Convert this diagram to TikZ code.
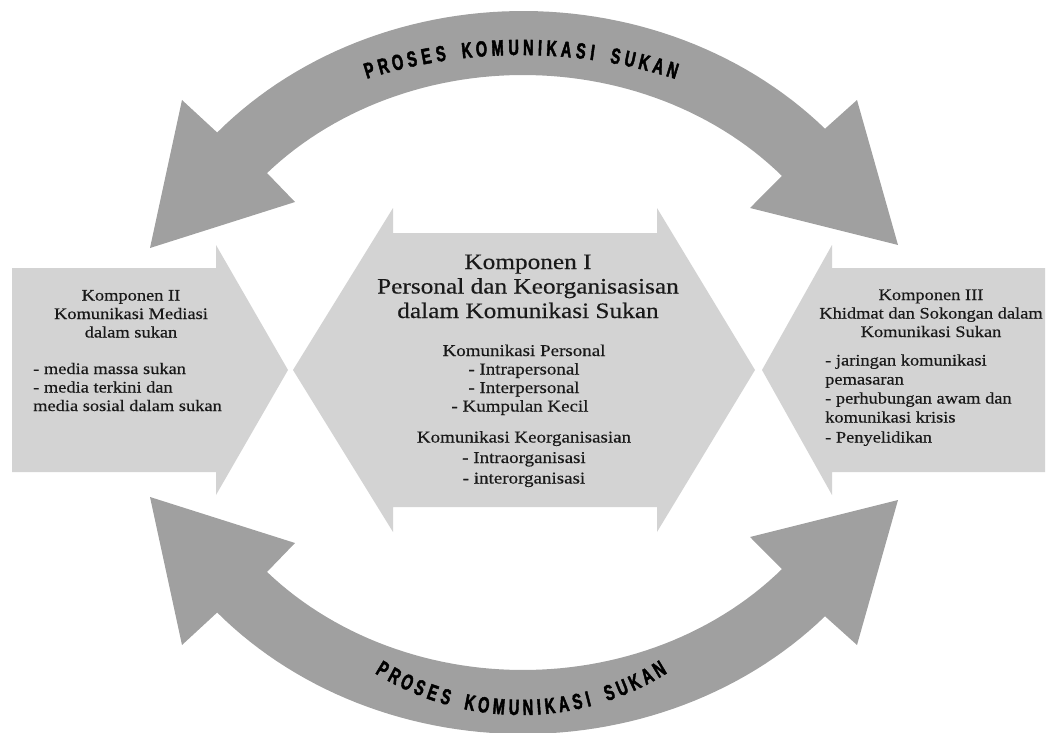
\documentclass[tikz,border=0pt]{standalone}
\usepackage{fontspec}
\setmainfont{Liberation Serif}[FakeStretch=1.15, FakeBold=0.35]
\newfontfamily\arcfont{Liberation Sans}[FakeStretch=0.66, BoldFeatures={FakeBold=2}]
\definecolor{arcgray}{RGB}{160,160,160}
\definecolor{boxgray}{RGB}{211,211,211}
\definecolor{txt}{RGB}{25,25,25}
\tikzset{
  band/.style={fill=arcgray},
  box/.style={fill=boxgray},
  ttl/.style={inner sep=0pt, text=txt, font=\fontsize{22}{24.5}\selectfont},
  sub/.style={inner sep=0pt, text=txt, font=\fontsize{16.5}{19.5}\selectfont},
  side/.style={inner sep=0pt, text=txt, font=\fontsize{16}{18.5}\selectfont},
  arclet/.style={inner sep=0pt, anchor=base, text=black, font=\arcfont\bfseries\fontsize{22}{22}\selectfont}
}
\begin{document}
\begin{tikzpicture}[x=1pt,y=-1pt]
\useasboundingbox (0,0) rectangle (1047,733);
% top curved double arrow
\fill[band] (150,248) -- (295,202)
  -- plot[domain=137.9:41.35, samples=60, variable=\t] ({523+345*cos(\t)},{372.5-297.5*sin(\t)})
  -- (750,208) -- (898,245) -- (857,100)
  -- plot[domain=42.4:138.4, samples=60, variable=\t] ({523+409*cos(\t)},{372.5-361.5*sin(\t)})
  -- (182,100) -- cycle;
% bottom curved double arrow
\fill[band] (150,497) -- (295,543)
  -- plot[domain=137.9:41.35, samples=60, variable=\t] ({523+345*cos(\t)},{372.5+297.5*sin(\t)})
  -- (750,537) -- (898,500) -- (857,645)
  -- plot[domain=42.4:138.4, samples=60, variable=\t] ({523+409*cos(\t)},{372.5+361.5*sin(\t)})
  -- (182,645) -- cycle;
% left arrow
\fill[box] (12,268) -- (216,268) -- (216,245) -- (288,370) -- (216,495) -- (216,472) -- (12,472) -- cycle;
% centre double arrow
\fill[box] (393,208) -- (393,233) -- (657,233) -- (657,208) -- (755,370) -- (657,532) -- (657,507) -- (393,507) -- (393,532) -- (293,370) -- cycle;
% right arrow
\fill[box] (1045,268) -- (832,268) -- (832,245) -- (762,370) -- (832,495) -- (832,472) -- (1045,472) -- cycle;
% arc texts (letters on circular baselines)
\foreach \ch/\s [count=\i] in {P/0.5,R/1.5,O/2.5,S/3.5,E/4.5,S/5.5,K/7.3,O/8.3,M/9.4,U/10.5,N/11.5,I/12.3,K/13.1,A/14.1,S/15.1,I/15.9,S/17.5,U/18.5,K/19.5,A/20.5,N/21.5}{
  \pgfmathsetmacro\ta{90-(\s-11)*1.62}
  \node[arclet, rotate=\ta-90] (t\i) at ({521+511*cos(\ta)},{566-511*sin(\ta)}) {\ch};
  \pgfmathsetmacro\tb{270+(\s-11)*2.95}
  \node[arclet, rotate=\tb-270] (b\i) at ({521+276*cos(\tb)},{439-276*sin(\tb)}) {\ch};
}
% centre texts
\node[ttl, anchor=base] (c1) at (528,269) {Komponen I};
\node[ttl, anchor=base] (c2) at (528,293.5) {Personal dan Keorganisasisan};
\node[ttl, anchor=base] (c3) at (528,318) {dalam Komunikasi Sukan};
\node[sub, anchor=base] (c4) at (524,356) {Komunikasi Personal};
\node[sub, anchor=base] (c5) at (524,374.5) {- Intrapersonal};
\node[sub, anchor=base] (c6) at (524,393) {- Interpersonal};
\node[sub, anchor=base] (c7) at (520,411.5) {- Kumpulan Kecil};
\node[sub, anchor=base] (c8) at (524,442.5) {Komunikasi Keorganisasian};
\node[sub, anchor=base] (c9) at (524,463) {- Intraorganisasi};
\node[sub, anchor=base] (c10) at (524,483.5) {- interorganisasi};
% left texts
\node[side, anchor=base] (l1) at (131,300.5) {Komponen II};
\node[side, anchor=base] (l2) at (131,319) {Komunikasi Mediasi};
\node[side, anchor=base] (l3) at (131,337.5) {dalam sukan};
\node[side, anchor=base west] (l4) at (33,374) {- media massa sukan};
\node[side, anchor=base west] (l5) at (33,392.5) {- media terkini dan};
\node[side, anchor=base west] (l6) at (33,411) {media sosial dalam sukan};
% right texts
\node[side, anchor=base] (r1) at (931,300) {Komponen III};
\node[side, anchor=base] (r2) at (931,318.5) {Khidmat dan Sokongan dalam};
\node[side, anchor=base] (r3) at (931,337) {Komunikasi Sukan};
\node[side, anchor=base west] (r4) at (825,365.5) {- jaringan komunikasi};
\node[side, anchor=base west] (r5) at (825,384.5) {pemasaran};
\node[side, anchor=base west] (r6) at (825,403.5) {- perhubungan awam dan};
\node[side, anchor=base west] (r7) at (825,422.5) {komunikasi krisis};
\node[side, anchor=base west] (r8) at (825,442.5) {- Penyelidikan};
\end{tikzpicture}
\end{document}
